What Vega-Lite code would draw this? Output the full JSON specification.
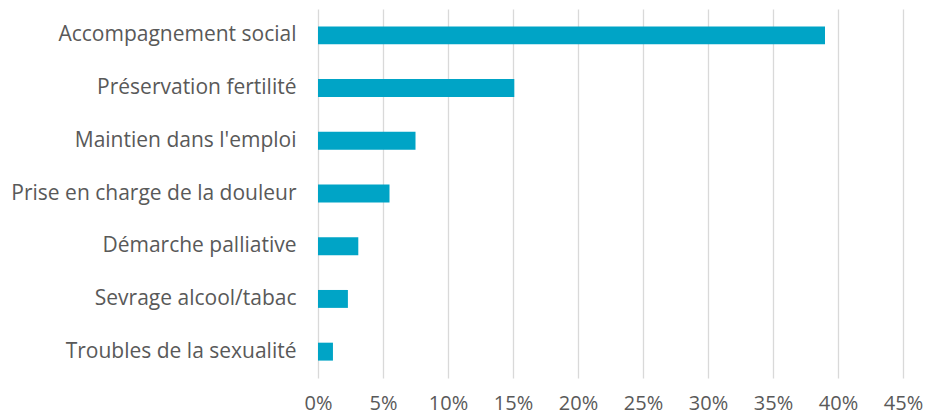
{
  "$schema": "https://vega.github.io/schema/vega-lite/v6.json",
  "autosize": "none",
  "width": 585,
  "height": 369,
  "padding": {"left": 318, "top": 9, "right": 25, "bottom": 39},
  "background": "white",
  "config": {"view": {"stroke": null}},
  "data": {
    "values": [
      {"categorie": "Accompagnement social", "part": 0.39},
      {"categorie": "Préservation fertilité", "part": 0.151},
      {"categorie": "Maintien dans l'emploi", "part": 0.075},
      {"categorie": "Prise en charge de la douleur", "part": 0.055},
      {"categorie": "Démarche palliative", "part": 0.031},
      {"categorie": "Sevrage alcool/tabac", "part": 0.023},
      {"categorie": "Troubles de la sexualité", "part": 0.0115}
    ]
  },
  "mark": {"type": "bar", "color": "#00A4C6"},
  "encoding": {
    "y": {
      "field": "categorie",
      "type": "nominal",
      "sort": null,
      "scale": {"paddingInner": 0.66, "paddingOuter": 0.33},
      "axis": {
        "title": null,
        "domain": false,
        "ticks": false,
        "labelPadding": 22,
        "labelFont": "Open Sans",
        "labelFontSize": 21,
        "labelColor": "#595959",
        "labelLimit": 400
      }
    },
    "x": {
      "field": "part",
      "type": "quantitative",
      "scale": {"domain": [0, 0.45], "nice": false},
      "axis": {
        "title": null,
        "format": ".0%",
        "values": [0, 0.05, 0.1, 0.15, 0.2, 0.25, 0.3, 0.35, 0.4, 0.45],
        "domain": false,
        "ticks": false,
        "grid": true,
        "gridColor": "#d9d9d9",
        "gridWidth": 1.3,
        "labelPadding": 15,
        "labelFont": "Open Sans",
        "labelFontSize": 20,
        "labelColor": "#595959",
        "labelFlush": false,
        "labelOverlap": false
      }
    }
  }
}
